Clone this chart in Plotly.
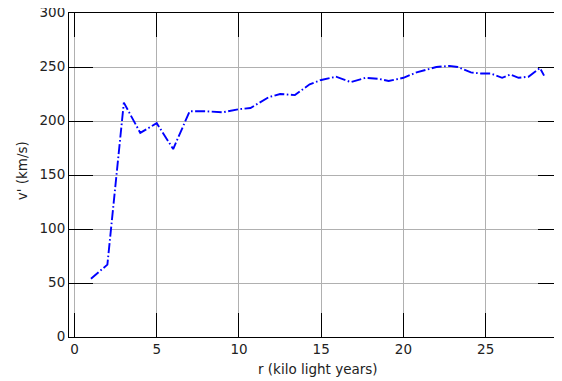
import plotly.graph_objects as go

r_kly = [1, 2, 3, 4, 5, 6, 7, 8, 9, 10, 10.7, 11.8, 12.5, 13.4, 14.3, 15, 15.9, 16.8,
         17.7, 18.5, 19.1, 20, 20.8, 22, 22.8, 23.3, 24.1, 24.7, 25.3, 26, 26.5, 27,
         27.6, 28.3, 28.55]
v_kms = [54, 67, 217, 189, 198, 174, 209, 209, 208, 211, 212, 222, 225, 224, 234, 238,
         241, 236, 240, 239, 237, 240, 245, 250, 251, 250, 245, 244, 244, 240, 243, 240,
         241, 249, 242]

x_ticks = [0, 5, 10, 15, 20, 25]
y_ticks = [0, 50, 100, 150, 200, 250, 300]

FONT = "DejaVu Sans"

fig = go.Figure()
fig.add_trace(go.Scatter(
    x=r_kly, y=v_kms, mode="lines",
    line=dict(color="#0000ff", width=1.9, dash="10px,2.5px,1.6px,2.5px"),
    showlegend=False,
))

axis_common = dict(
    showgrid=True, gridcolor="#b0b0b0", gridwidth=1,
    showline=True, linecolor="black", linewidth=1, mirror="ticks",
    ticks="inside", ticklen=24, tickwidth=1, tickcolor="black",
    zeroline=False, automargin=False, ticklabeloverflow="allow",
    tickfont=dict(family=FONT, size=13.5, color="#222"),
)

fig.update_xaxes(range=[-0.334, 29.64], tickvals=x_ticks, **axis_common)
fig.update_yaxes(range=[0, 300], tickvals=y_ticks, ticklabelshift=-1, **axis_common)

# page body has an 8px default margin, so the figure is sized to fit the window
fig.update_layout(
    width=554, height=373,
    margin=dict(l=61, r=0, t=5, b=44, autoexpand=False),
    paper_bgcolor="white", plot_bgcolor="white",
    font=dict(family=FONT, size=13.5, color="#222"),
    annotations=[
        dict(text="r (kilo light years)", xref="paper", yref="paper",
             x=0.505, y=-0.099, xanchor="center", yanchor="middle",
             showarrow=False, font=dict(family=FONT, size=13.5, color="#222")),
        dict(text="v' (km/s)", xref="paper", yref="paper",
             x=-0.095, y=0.512, xanchor="center", yanchor="middle",
             textangle=-90, showarrow=False,
             font=dict(family=FONT, size=13.5, color="#222")),
    ],
)

fig.write_html("out.html")
